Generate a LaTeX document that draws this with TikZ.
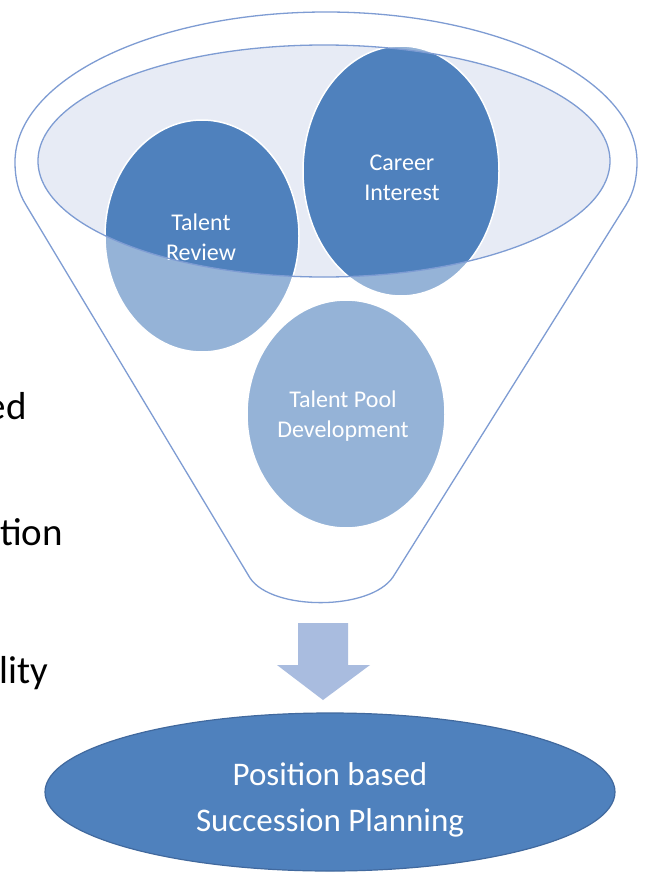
\documentclass[tikz,border=0pt]{standalone}
\usepackage{fontspec}
\setmainfont{Carlito}
\usetikzlibrary{shapes.geometric}
\definecolor{darkblue}{HTML}{4F81BD}
\definecolor{rimfill}{HTML}{E7EBF5}
\definecolor{lineblue}{HTML}{7E9CD3}
\definecolor{arrowblue}{HTML}{A9BCDF}
\definecolor{edgeblue}{HTML}{41699E}
\tikzset{
  bubble/.style={ellipse, fill=darkblue, draw=white, line width=1.5pt, inner sep=0pt},
  bubbletext/.style={text=white, align=center, font=\fontsize{24}{30}\selectfont},
  funnelline/.style={draw=lineblue, line width=1.3pt},
  sidetext/.style={text=black, anchor=base east, inner sep=0pt, font=\fontsize{39}{47}\selectfont}
}
\begin{document}
\begin{tikzpicture}[x=1pt,y=-1pt]
\useasboundingbox (0,0) rectangle (645,878);
\fill[white] (0,0) rectangle (645,878);
% funnel opening
\fill[rimfill] (324,161) ellipse [x radius=286, y radius=116];
% bubbles
\node[bubble, minimum width=194pt, minimum height=232pt] (review) at (202,236) {};
\node[bubble, minimum width=196pt, minimum height=250pt] (career) at (401,171) {};
\node[bubble, minimum width=198pt, minimum height=228pt] (pool) at (346,414) {};
% funnel body overlay
\fill[white, fill opacity=0.4, even odd rule]
  (250,578) .. controls (272,611) and (370,611) .. (393,577) -- (626,205)
  .. controls (634,192) and (637,178) .. (637,162)
  arc[start angle=0, end angle=-180, x radius=311, y radius=150]
  .. controls (15,178) and (18,192) .. (26,205) -- cycle
  (324,161) ellipse [x radius=286, y radius=116];
% bubble texts
\node[bubbletext] (reviewtxt) at (201,237) {Talent\\Review};
\node[bubbletext] (careertxt) at (402,178) {Career\\Interest};
\node[bubbletext] (pooltxt) at (343,416) {Talent Pool\\Development};
% funnel outlines
\draw[funnelline] (324,161) ellipse [x radius=286, y radius=116];
\draw[funnelline]
  (250,578) .. controls (272,611) and (370,611) .. (393,577) -- (626,205)
  .. controls (634,192) and (637,178) .. (637,162)
  arc[start angle=0, end angle=-180, x radius=311, y radius=150]
  .. controls (15,178) and (18,192) .. (26,205) -- cycle;
% arrow
\fill[arrowblue] (298,623) -- (348,623) -- (348,665) -- (370,665) -- (323,700)
  -- (277,665) -- (298,665) -- cycle;
% result
\node[ellipse, fill=darkblue, draw=edgeblue, line width=1.2pt, minimum width=570pt, minimum height=158pt, inner sep=0pt] (result) at (330,792) {};
\node[text=white, align=center, font=\fontsize{33}{46}\selectfont] (resulttxt) at (330,800) {Position based\\Succession Planning};
% cut-off side texts
\node[sidetext] (t1) at (27,419) {ed};
\node[sidetext] (t2) at (63,545) {tion};
\node[sidetext] (t3) at (48,683) {lity};
\end{tikzpicture}
\end{document}
